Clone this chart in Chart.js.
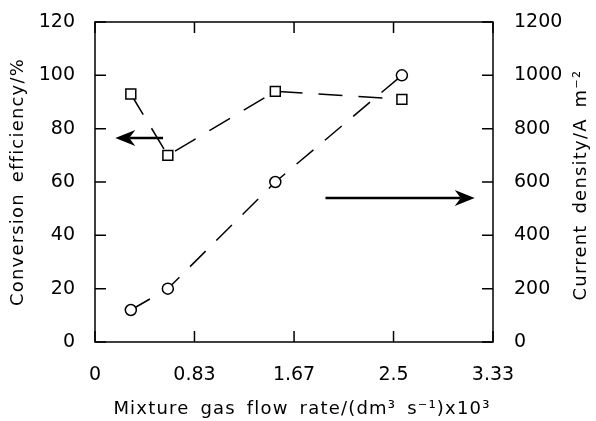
<!DOCTYPE html>
<html>
<head>
<meta charset="utf-8">
<script src="https://cdn.jsdelivr.net/npm/chart.js@4.4.1/dist/chart.umd.min.js"></script>
<style>
  html, body { margin: 0; padding: 0; background: #fff; }
</style>
</head>
<body>
<canvas id="chart" width="596" height="421"></canvas>
<script>
// data
const flowRates = [0.30, 0.61, 1.51, 2.57];
const efficiency = [93, 70, 94, 91];          // left axis, %
const currentDensity = [120, 200, 600, 1000]; // right axis, A m-2

const xTickValues = [0, 0.833, 1.667, 2.5, 3.333];
const xTickLabels = ["0", "0.83", "1.67", "2.5", "3.33"];
const yTickValues = [0, 20, 40, 60, 80, 100, 120];
const y1TickValues = [0, 200, 400, 600, 800, 1000, 1200];

// arrows (x in flow-rate units, y in left-axis units)
const arrowLeft = { from: 0.57, to: 0.17, y: 76.5 };
const arrowRight = { from: 1.93, to: 3.18, y: 54 };

const FONT = "'DejaVu Sans', Verdana, sans-serif";

function drawArrow(ctx, x0, x1, y) {
  const dir = x1 > x0 ? 1 : -1;
  const L = 20, W = 8;
  ctx.beginPath();
  ctx.moveTo(x0, y);
  ctx.lineTo(x1 - dir * L * 0.7, y);
  ctx.lineWidth = 2.5;
  ctx.stroke();
  ctx.beginPath();
  ctx.moveTo(x1, y);
  ctx.lineTo(x1 - dir * L, y - W);
  ctx.lineTo(x1 - dir * L * 0.7, y);
  ctx.lineTo(x1 - dir * L, y + W);
  ctx.closePath();
  ctx.fill();
}

function drawTitle(ctx, text, x, y, rot) {
  ctx.save();
  ctx.translate(x, y);
  if (rot) ctx.rotate(rot);
  ctx.font = "18px " + FONT;
  ctx.letterSpacing = "1.2px";
  ctx.wordSpacing = "4px";
  ctx.textAlign = "center";
  ctx.textBaseline = "middle";
  ctx.fillStyle = "#000";
  ctx.fillText(text, 0, 0);
  ctx.restore();
}

const framePlugin = {
  id: "frame",
  afterDraw(chart) {
    const { ctx, chartArea: a, scales } = chart;
    const tick = 11;
    ctx.save();
    ctx.strokeStyle = "#000";
    ctx.fillStyle = "#000";
    ctx.lineWidth = 1.5;
    ctx.setLineDash([]);
    ctx.strokeRect(a.left, a.top, a.right - a.left, a.bottom - a.top);
    ctx.beginPath();
    xTickValues.forEach(v => {
      const px = scales.x.getPixelForValue(v);
      ctx.moveTo(px, a.bottom); ctx.lineTo(px, a.bottom - tick);
      ctx.moveTo(px, a.top); ctx.lineTo(px, a.top + tick);
    });
    yTickValues.forEach(v => {
      const py = scales.y.getPixelForValue(v);
      ctx.moveTo(a.left, py); ctx.lineTo(a.left + tick, py);
    });
    y1TickValues.forEach(v => {
      const py = scales.y1.getPixelForValue(v);
      ctx.moveTo(a.right, py); ctx.lineTo(a.right - tick, py);
    });
    ctx.stroke();

    [arrowLeft, arrowRight].forEach(ar => {
      drawArrow(ctx,
        scales.x.getPixelForValue(ar.from),
        scales.x.getPixelForValue(ar.to),
        scales.y.getPixelForValue(ar.y));
    });
    ctx.restore();

    const midY = (a.top + a.bottom) / 2;
    drawTitle(ctx, "Mixture gas flow rate/(dm\u00B3 s\u207B\u00B9)x10\u00B3", 302, 409, 0);
    drawTitle(ctx, "Conversion efficiency/%", 18, midY, -Math.PI / 2);
    drawTitle(ctx, "Current density/A m\u207B\u00B2", 581, midY + 3, -Math.PI / 2);
  }
};

const tickFont = { family: FONT, size: 19 };

new Chart(document.getElementById("chart"), {
  type: "line",
  data: {
    datasets: [
      {
        label: "Conversion efficiency",
        data: flowRates.map((x, i) => ({ x, y: efficiency[i] })),
        yAxisID: "y",
        borderColor: "#000",
        borderWidth: 1.5,
        borderDash: [24, 16],
        pointStyle: "rect",
        pointRadius: 7,
        pointBorderWidth: 1.5,
        pointBackgroundColor: "#fff",
        pointBorderColor: "#000",
        fill: false,
        tension: 0
      },
      {
        label: "Current density",
        data: flowRates.map((x, i) => ({ x, y: currentDensity[i] })),
        yAxisID: "y1",
        borderColor: "#000",
        borderWidth: 1.5,
        borderDash: [22, 15],
        pointStyle: "circle",
        pointRadius: 5.5,
        pointBorderWidth: 1.5,
        pointBackgroundColor: "#fff",
        pointBorderColor: "#000",
        fill: false,
        tension: 0
      }
    ]
  },
  options: {
    responsive: false,
    animation: false,
    layout: { padding: { top: 22, left: 0, right: 0, bottom: 0 } },
    plugins: { legend: { display: false }, tooltip: { enabled: false } },
    scales: {
      x: {
        type: "linear",
        position: "bottom",
        min: 0,
        max: 3.333,
        afterBuildTicks: s => { s.ticks = xTickValues.map(v => ({ value: v })); },
        afterFit: s => { s.height = 79; s.paddingLeft = 0; s.paddingRight = 0; },
        grid: { display: false, drawTicks: false },
        border: { display: false },
        ticks: {
          color: "#000",
          font: tickFont,
          padding: 22,
          maxRotation: 0,
          autoSkip: false,
          callback: (v, i) => xTickLabels[i]
        }
      },
      y: {
        position: "left",
        min: 0,
        max: 120,
        afterBuildTicks: s => { s.ticks = yTickValues.map(v => ({ value: v })); },
        afterFit: s => { s.width = 95; s.paddingTop = 0; s.paddingBottom = 0; },
        grid: { display: false, drawTicks: false },
        border: { display: false },
        ticks: { color: "#000", font: tickFont, padding: 20, callback: v => String(v) }
      },
      y1: {
        position: "right",
        min: 0,
        max: 1200,
        afterBuildTicks: s => { s.ticks = y1TickValues.map(v => ({ value: v })); },
        afterFit: s => { s.width = 103; s.paddingTop = 0; s.paddingBottom = 0; },
        grid: { display: false, drawTicks: false },
        border: { display: false },
        ticks: { color: "#000", font: tickFont, padding: 21, callback: v => String(v) }
      }
    }
  },
  plugins: [framePlugin]
});
</script>
</body>
</html>
